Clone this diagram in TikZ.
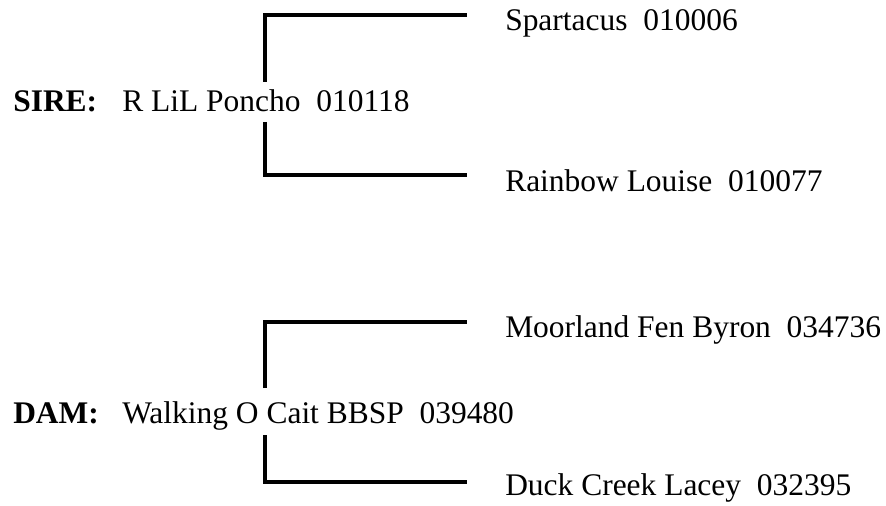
\documentclass[tikz,border=0pt]{standalone}
\usepackage{fontspec}
\setmainfont{Liberation Serif}
\usetikzlibrary{positioning,calc}
\tikzset{
  horse/.style={anchor=base west, inner sep=0pt, font=\fontsize{23.6}{28}\selectfont},
  parentlab/.style={horse, font=\fontsize{23.6}{28}\selectfont\bfseries},
  bracket/.style={line width=3pt, line join=miter}
}

\begin{document}
\begin{tikzpicture}[x=0.75pt,y=-0.75pt]
\useasboundingbox (0,0) rectangle (886,506);

% Sire side
\node[parentlab] (sirelab) at (13,112) {SIRE:};
\node[horse] (sire) at (122,112) {R LiL Poncho~~010118};
\node[horse] (sireS) at (505,31) {Spartacus~~010006};
\node[horse] (sireD) at (505,192) {Rainbow Louise~~010077};
\coordinate (sireup) at (265,82);
\coordinate (siredown) at (265,122);
\coordinate (sireSend) at ($(sireS.base west)+(-38,-16)$);
\coordinate (sireDend) at ($(sireD.base west)+(-38,-17)$);
\draw[bracket] (sireup) |- (sireSend);
\draw[bracket] (siredown) |- (sireDend);

% Dam side
\node[parentlab] (damlab) at (13,423) {DAM:};
\node[horse] (dam) at (122,423) {Walking O Cait BBSP~~039480};
\node[horse] (damS) at (505,337) {Moorland Fen Byron~~034736};
\node[horse] (damD) at (505,495) {Duck Creek Lacey~~032395};
\coordinate (damup) at (265,388);
\coordinate (damdown) at (265,435);
\coordinate (damSend) at ($(damS.base west)+(-38,-15)$);
\coordinate (damDend) at ($(damD.base west)+(-38,-13)$);
\draw[bracket] (damup) |- (damSend);
\draw[bracket] (damdown) |- (damDend);
\end{tikzpicture}
\end{document}
